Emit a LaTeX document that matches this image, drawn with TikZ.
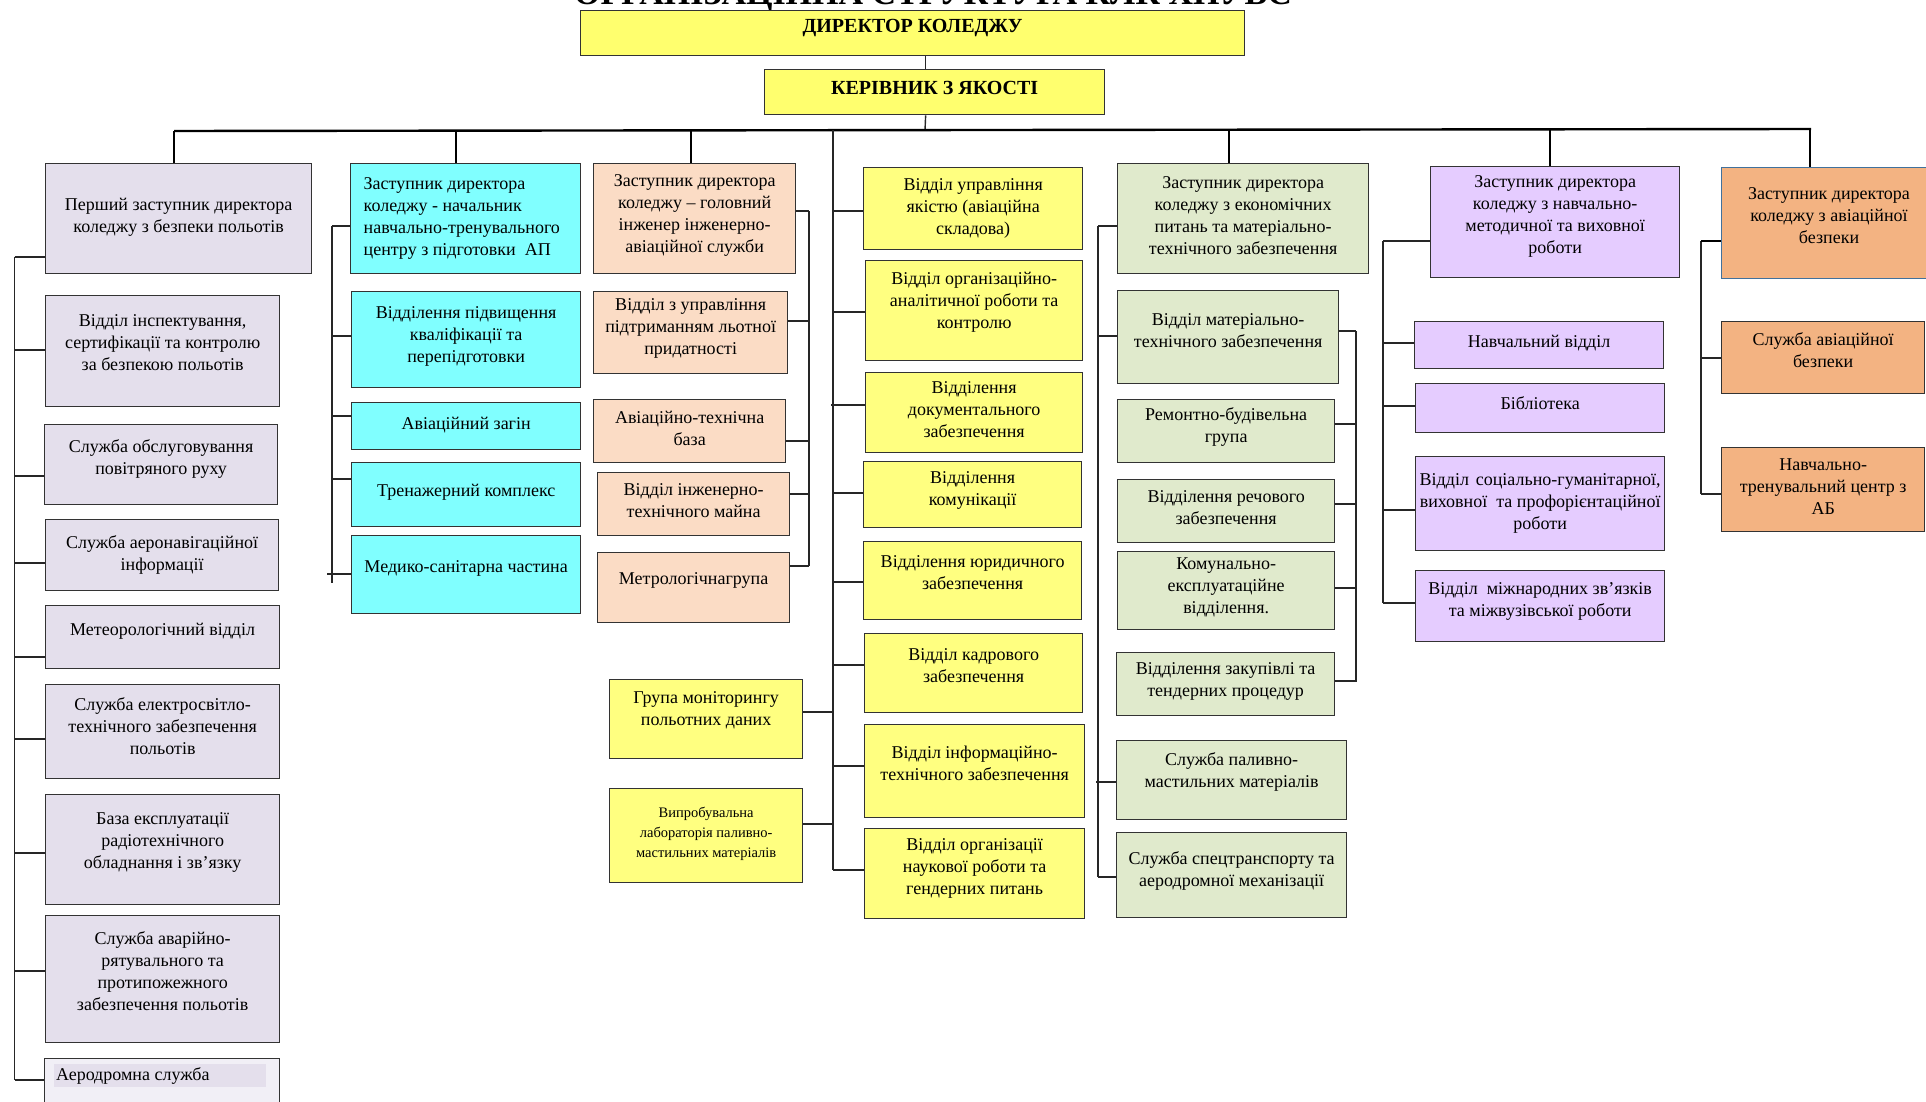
\documentclass[tikz,border=0pt]{standalone}
\usepackage{fontspec}
\setmainfont{Liberation Serif}
\usetikzlibrary{calc}
\definecolor{lav}{HTML}{E4DFEC}
\definecolor{lavL}{HTML}{F1EFF6}
\definecolor{cyanb}{HTML}{80FFFF}
\definecolor{peach}{HTML}{FBDCC5}
\definecolor{yelT}{HTML}{FFFF6E}
\definecolor{yel}{HTML}{FFFF80}
\definecolor{grn}{HTML}{E0EACC}
\definecolor{pur}{HTML}{E5CCFF}
\definecolor{org}{HTML}{F3B382}
\definecolor{bord}{HTML}{333333}
\definecolor{blueb}{HTML}{41719C}
\newcommand\fsz{\fontsize{18}{22}\selectfont}
% #1 upward shift*2, #2 name, #3 style, #4 x1, #5 y1, #6 x2, #7 y2, #8 text
\newcommand\ob[8][12]{%
  \pgfmathsetlengthmacro\bw{#6-#4}%
  \pgfmathsetlengthmacro\bh{#7-#5}%
  \pgfmathsetlengthmacro\tw{#6-#4-8}%
  \node[obox,#3,minimum width=\bw,minimum height=\bh,anchor=north west] (#2) at (#4,#5)
   {\begin{minipage}[c][\bh][c]{\tw}\fsz\centering #8\par\vspace{#1pt}\end{minipage}};%
}
\newcommand\tk[4]{\coordinate (tk) at (#1,#2); \draw[br] (tk) -- (tk -| #3.#4);}
\begin{document}
\begin{tikzpicture}[x=1pt,y=-1pt,
  obox/.style={draw=bord,line width=1.3pt,inner xsep=4pt,inner ysep=0pt},
  br/.style={line width=1.4pt,draw=black!85},
  tp/.style={line width=2.4pt,draw=black}]
\useasboundingbox (0,0) rectangle (1926,1102);
\clip (0,0) rectangle (1926,1102);
% title (cut off by the page edge)
\node[anchor=base,font=\bfseries\fontsize{34}{36}\selectfont,inner sep=0pt] (title) at (933,5) {ОРГАНІЗАЦІЙНА СТРУКТУРА КЛК ХНУВС};
% top
\ob[10]{dir}{fill=yelT}{580}{10}{1244}{55}{\bfseries\fontsize{20}{24}\selectfont ДИРЕКТОР КОЛЕДЖУ}
\ob[8]{ker}{fill=yelT}{764}{69}{1104}{114}{\bfseries\fontsize{20}{24}\selectfont КЕРІВНИК З ЯКОСТІ}
% column 1
\ob[2]{b1}{fill=lav}{45}{163}{311}{273}{Перший заступник директора\\коледжу з безпеки польотів}
\ob[18]{b2}{fill=lav}{45}{295}{279}{406}{Відділ інспектування,\\сертифікації та контролю\\за безпекою польотів}
\ob{b3}{fill=lav}{44}{424}{277}{504}{Служба обслуговування\\повітряного руху}
\ob[0]{b4}{fill=lav}{45}{519}{278}{590}{Служба аеронавігаційної\\інформації}
\ob{b5}{fill=lav}{45}{605}{279}{668}{Метеорологічний відділ}
\ob{b6}{fill=lav}{45}{684}{279}{778}{Служба електросвітло-\\технічного забезпечення\\польотів}
\ob[14]{b7}{fill=lav}{45}{794}{279}{904}{База експлуатації\\радіотехнічного\\обладнання і зв’язку}
\ob[16]{b8}{fill=lav}{45}{915}{279}{1042}{Служба аварійно-\\рятувального та\\протипожежного\\забезпечення польотів}
\ob[0]{b9}{fill=lavL}{44}{1058}{279}{1130}{}
\fill[lav] (54,1064) rectangle (266,1087);
\node[anchor=west,inner sep=0pt,font=\fsz] (b9t) at (56,1076) {Аеродромна служба};
% column 2
\ob[0]{c1}{fill=cyanb}{350}{163}{580}{273}{\raggedright\leftskip=9pt Заступник директора\\коледжу - начальник\\навчально-тренувального\\центру з підготовки~ АП}
\ob[6]{c2}{fill=cyanb}{351}{291}{580}{387}{Відділення підвищення\\кваліфікації та\\перепідготовки}
\ob[2]{c3}{fill=cyanb}{351}{402}{580}{449}{Авіаційний загін}
\ob[4]{c4}{fill=cyanb}{351}{462}{580}{526}{Тренажерний комплекс}
\ob{c5}{fill=cyanb}{351}{535}{580}{613}{Медико-санітарна частина}
% column 3
\ob[6]{p1}{fill=peach}{593}{163}{795}{273}{Заступник директора\\коледжу – головний\\інженер інженерно-\\авіаційної служби}
\ob[8]{p2}{fill=peach}{593}{291}{787}{373}{Відділ з управління\\підтриманням льотної\\придатності}
\ob[6]{p3}{fill=peach}{593}{399}{785}{462}{Авіаційно-технічна\\база}
\ob[8]{p4}{fill=peach}{597}{472}{789}{535}{Відділ інженерно-\\технічного майна}
\ob[14]{p5}{fill=peach}{597}{552}{789}{622}{Метрологічнагрупа}
% yellow column
\ob[0]{y1}{fill=yel}{863}{167}{1082}{249}{Відділ управління\\якістю (авіаційна\\складова)}
\ob[16]{y2}{fill=yel}{865}{260}{1082}{360}{Відділ організаційно-\\аналітичної роботи та\\контролю}
\ob[6]{y3}{fill=yel}{865}{372}{1082}{452}{Відділення\\документального\\забезпечення}
\ob[8]{y4}{fill=yel}{863}{461}{1081}{527}{Відділення\\комунікації}
\ob[16]{y5}{fill=yel}{863}{541}{1081}{619}{Відділення юридичного\\забезпечення}
\ob[16]{y6}{fill=yel}{864}{633}{1082}{712}{Відділ кадрового\\забезпечення}
\ob[16]{y7}{fill=yel}{864}{724}{1084}{817}{Відділ інформаційно-\\технічного забезпечення}
\ob[10]{y8}{fill=yel}{864}{828}{1084}{918}{Відділ організації\\наукової роботи та\\гендерних питань}
\ob[18]{yl1}{fill=yel}{609}{679}{802}{758}{Група моніторингу\\польотних даних}
\ob[4]{yl2}{fill=yel}{609}{788}{802}{882}{\fontsize{14.5}{20}\selectfont Випробувальна\\лабораторія паливно-\\мастильних матеріалів}
% green column
\ob[6]{g1}{fill=grn}{1117}{163}{1368}{273}{Заступник директора\\коледжу з економічних\\питань та матеріально-\\технічного забезпечення}
\ob[14]{g2}{fill=grn}{1117}{290}{1338}{383}{Відділ матеріально-\\технічного забезпечення}
\ob[8]{g3}{fill=grn}{1117}{399}{1334}{462}{Ремонтно-будівельна\\група}
\ob[8]{g4}{fill=grn}{1117}{479}{1334}{542}{Відділення речового\\забезпечення}
\ob[6]{g5}{fill=grn}{1117}{551}{1334}{629}{Комунально-\\експлуатаційне\\відділення.}
\ob[6]{g6a}{fill=grn}{1116}{652}{1334}{715}{Відділення закупівлі та\\тендерних процедур}
\ob[16]{g6}{fill=grn}{1116}{740}{1346}{819}{Служба паливно-\\мастильних матеріалів}
\ob[8]{g7}{fill=grn}{1116}{832}{1346}{917}{Служба спецтранспорту та\\аеродромної механізації}
% purple column
\ob[12]{pu1}{fill=pur}{1430}{166}{1679}{277}{Заступник директора\\коледжу з навчально-\\методичної та виховної\\роботи}
\ob[4]{pu2}{fill=pur}{1414}{321}{1663}{368}{Навчальний відділ}
\ob[10]{pu3}{fill=pur}{1415}{383}{1664}{432}{Бібліотека}
\ob[0]{pu4}{fill=pur}{1415}{456}{1664}{550}{Відділ~ соціально-гуманітарної,\\виховної~ та профорієнтаційної\\роботи}
\ob[10]{pu5}{fill=pur}{1415}{570}{1664}{641}{Відділ~ міжнародних зв’язків\\та міжвузівської роботи}
% orange column
\ob[14]{o1}{fill=org,draw=blueb,line width=1pt}{1721}{167}{1936}{278}{Заступник директора\\коледжу з авіаційної\\безпеки}
\ob[16]{o2}{fill=org}{1721}{321}{1924}{393}{Служба авіаційної\\безпеки}
\ob[6]{o3}{fill=org}{1721}{447}{1924}{531}{Навчально-\\тренувальний центр з\\АБ}
% top connectors
\coordinate (kx) at ($(ker.north)+(-9,0)$);
\draw[br] (kx |- dir.south) -- (kx);
\coordinate (busC) at (925,130);
\draw[br] (kx |- ker.south) -- (busC);
\coordinate (busL) at (174,131);
\coordinate (busR) at (1811,129);
\draw[tp] (busL) -- (busR);
\coordinate (d1) at (174,131); \draw[tp] (d1) -- (d1 |- b1.north);
\coordinate (d2) at (456,131); \draw[tp] (d2) -- (d2 |- c1.north);
\coordinate (d3) at (691,130); \draw[tp] (d3) -- (d3 |- p1.north);
\coordinate (d4) at (833,130); \coordinate (d4e) at (833,870); \draw[br] (d4) -- (d4e);
\coordinate (d5) at (1229,130); \draw[tp] (d5) -- (d5 |- g1.north);
\coordinate (d6) at (1550,129); \draw[tp] (d6) -- (d6 |- pu1.north);
\coordinate (d7) at (1810,129); \draw[tp] (d7) -- (d7 |- o1.north);
% column 1 bus
\draw[br] (14.5,257) -- (14.5,1080);
\tk{14.5}{257}{b1}{west}
\tk{14.5}{350}{b2}{west}
\tk{14.5}{476}{b3}{west}
\tk{14.5}{563}{b4}{west}
\tk{14.5}{657}{b5}{west}
\tk{14.5}{739}{b6}{west}
\tk{14.5}{853}{b7}{west}
\tk{14.5}{971}{b8}{west}
\tk{14.5}{1080}{b9}{west}
% column 2 bus
\draw[br] (332,226) -- (332,583);
\tk{332}{226}{c1}{west}
\tk{332}{336}{c2}{west}
\tk{332}{416}{c3}{west}
\tk{332}{479}{c4}{west}
\tk{327}{574}{c5}{west}
% column 3 bus
\draw[br] (809,211) -- (809,566);
\tk{809}{211}{p1}{east}
\tk{809}{321}{p2}{east}
\tk{809}{441}{p3}{east}
\tk{809}{494}{p4}{east}
\tk{809}{566}{p5}{east}
% yellow bus
\tk{833}{211}{y1}{west}
\tk{833}{312}{y2}{west}
\tk{831}{405}{y3}{west}
\tk{833}{493}{y4}{west}
\tk{833}{582}{y5}{west}
\tk{833}{665}{y6}{west}
\tk{833}{766}{y7}{west}
\tk{833}{870}{y8}{west}
\tk{833}{712}{yl1}{east}
\tk{833}{824}{yl2}{east}
% green buses
\draw[br] (1098,226) -- (1098,877);
\tk{1098}{226}{g1}{west}
\tk{1098}{336}{g2}{west}
\tk{1096}{782}{g6}{west}
\tk{1098}{877}{g7}{west}
\draw[br] (1356,331) -- (1356,682);
\tk{1356}{331}{g2}{east}
\tk{1356}{424}{g3}{east}
\tk{1356}{504}{g4}{east}
\tk{1356}{588}{g5}{east}
\tk{1356}{681}{g6a}{east}
% purple bus
\draw[br] (1383,241) -- (1383,603);
\tk{1383}{241}{pu1}{west}
\tk{1383}{343}{pu2}{west}
\tk{1383}{406}{pu3}{west}
\tk{1383}{510}{pu4}{west}
\tk{1383}{603}{pu5}{west}
% orange bus
\draw[br] (1701,241) -- (1701,494);
\coordinate (ot) at (1701,241); \draw[tp] (ot) -- (ot -| o1.west);
\tk{1701}{358}{o2}{west}
\tk{1701}{494}{o3}{west}
\end{tikzpicture}
\end{document}
